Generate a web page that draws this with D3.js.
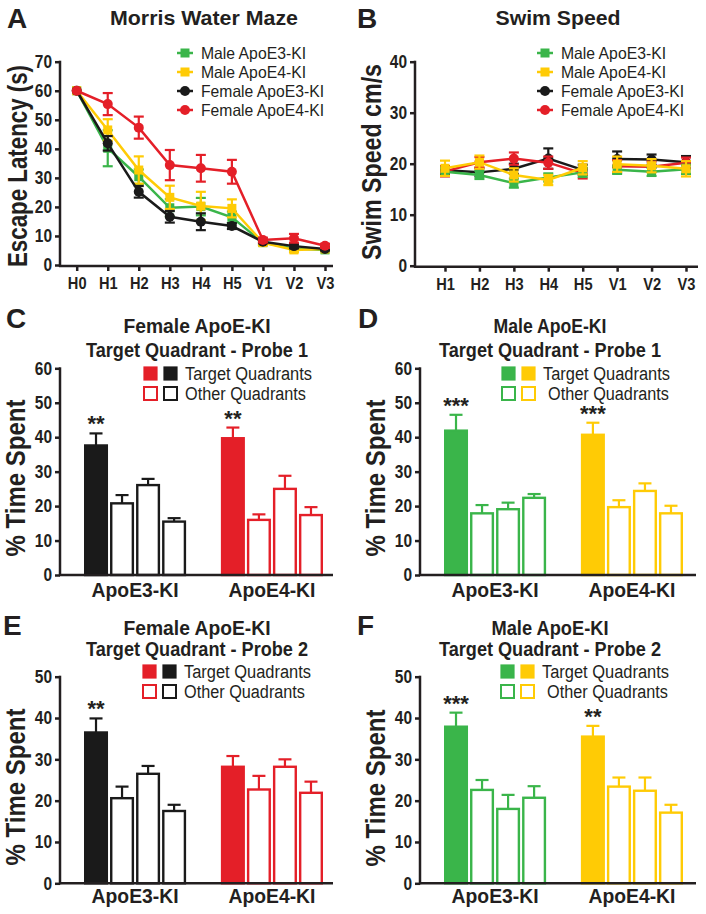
<!DOCTYPE html>
<html>
<head>
<meta charset="utf-8">
<script src="https://cdn.jsdelivr.net/npm/d3@7"></script>
<style>
  body { margin: 0; background: #fff; }
</style>
</head>
<body>
<script>
// ---- data ----
const mazeDays = ["H0", "H1", "H2", "H3", "H4", "H5", "V1", "V2", "V3"];
const mazeMaleE3 = [60, 40.2, 30.4, 19.7, 20.1, 16.4, 7.7, 5.7, 5.2];
const mazeMaleE3Err = [0, 6.2, 2.5, 3, 3, 2, 0.8, 0.5, 0.5];
const mazeMaleE4 = [60, 46.5, 32.7, 23.3, 20.3, 19.5, 7.7, 5.2, 5.5];
const mazeMaleE4Err = [0, 3.7, 4.7, 4, 4.9, 3.1, 0.8, 0.8, 0.5];
const mazeFemaleE3 = [60, 41.9, 25.2, 16.6, 14.9, 13.4, 8.0, 6.5, 5.5];
const mazeFemaleE3Err = [0, 2.5, 2, 2, 2.9, 1, 0.5, 0.8, 0.5];
const mazeFemaleE4 = [60, 55.4, 47.3, 34.4, 33.3, 32.1, 8.6, 9.2, 6.6];
const mazeFemaleE4Err = [0, 3.8, 3.8, 5.2, 4.6, 4.1, 0.8, 1.5, 0.7];

const swimDays = ["H1", "H2", "H3", "H4", "H5", "V1", "V2", "V3"];
const swimMaleE3 = [18.4, 17.8, 16.2, 17.3, 18.3, 18.8, 18.4, 18.9];
const swimMaleE3Err = [0.8, 0.8, 0.9, 0.8, 0.9, 0.8, 0.8, 0.9];
const swimMaleE4 = [19.1, 20.3, 17.8, 16.8, 19.2, 19.9, 19.6, 19.0];
const swimMaleE4Err = [1.5, 1.3, 1.3, 1.0, 1.3, 1.5, 1.3, 1.5];
const swimFemaleE3 = [18.7, 18.3, 19.0, 21.0, 18.8, 20.9, 20.8, 20.3];
const swimFemaleE3Err = [0.8, 0.8, 1.0, 2.0, 1.0, 1.5, 1.0, 1.2];
const swimFemaleE4 = [18.5, 20.3, 21.0, 20.2, 18.1, 19.5, 19.4, 20.2];
const swimFemaleE4Err = [1.0, 1.0, 1.2, 1.2, 1.0, 1.2, 1.0, 1.0];

const seriesNames = ["Male ApoE3-KI", "Male ApoE4-KI", "Female ApoE3-KI", "Female ApoE4-KI"];

const genotypes = ["ApoE3-KI", "ApoE4-KI"];
const quadrantLabels = ["Target Quadrants", "Other Quadrants"];
// [target, other, other, other]
const femaleProbe1E3 = [37.6, 20.8, 26.1, 15.5];
const femaleProbe1E3Err = [3.5, 2.4, 1.8, 1.0];
const femaleProbe1E4 = [39.7, 16.0, 25.0, 17.4];
const femaleProbe1E4Err = [3.1, 1.6, 3.8, 2.3];
const maleProbe1E3 = [41.9, 17.9, 19.1, 22.4];
const maleProbe1E3Err = [4.6, 2.4, 1.9, 1.1];
const maleProbe1E4 = [40.7, 19.7, 24.4, 17.9];
const maleProbe1E4Err = [3.5, 2.0, 2.2, 2.2];
const femaleProbe2E3 = [36.5, 20.6, 26.5, 17.5];
const femaleProbe2E3Err = [3.4, 2.8, 1.9, 1.5];
const femaleProbe2E4 = [28.2, 22.7, 28.2, 21.9];
const femaleProbe2E4Err = [2.6, 3.3, 1.8, 2.7];
const maleProbe2E3 = [37.9, 22.6, 18.0, 20.7];
const maleProbe2E3Err = [3.4, 2.4, 3.4, 2.8];
const maleProbe2E4 = [35.5, 23.4, 22.4, 17.1];
const maleProbe2E4Err = [2.6, 2.2, 3.2, 1.9];
const femaleProbe1Stars = ["**", "**"];
const maleProbe1Stars = ["***", "***"];
const femaleProbe2Stars = ["**", ""];
const maleProbe2Stars = ["***", "**"];

// ---- style ----
const GREEN = "#3ab54a", YELLOW = "#ffcb05", BLACK = "#1a1a1a", RED = "#e41f28";
const SANS = "'Liberation Sans', Arial, Helvetica, sans-serif";
const INK = "#231f20";

const svg = d3.select("body").append("svg")
  .attr("width", 706).attr("height", 914);

// squeeze a text to look like a condensed face
function condense(t, factor) {
  const w = t.node().getComputedTextLength();
  t.attr("textLength", w * factor).attr("lengthAdjust", "spacingAndGlyphs");
}

function text(x, y, str, size, opts) {
  opts = opts || {};
  const t = svg.append("text")
    .attr("x", x).attr("y", y)
    .attr("font-family", SANS)
    .attr("font-size", size)
    .attr("font-weight", opts.weight || "bold")
    .attr("text-anchor", opts.anchor || "start")
    .attr("fill", opts.fill || INK)
    .text(str);
  if (opts.rotate) t.attr("transform", "rotate(-90," + x + "," + y + ")");
  if (opts.len) t.attr("textLength", opts.len).attr("lengthAdjust", "spacingAndGlyphs");
  return t;
}

function styleAxis(a, size) {
  a.select(".domain").remove();
  a.selectAll(".tick line").attr("stroke", INK).attr("stroke-width", 2.5);
  a.selectAll(".tick text")
    .attr("font-family", SANS).attr("font-weight", "bold")
    .attr("font-size", size).attr("fill", INK)
    .each(function () { condense(d3.select(this), 0.86); });
}

function marker(g, shape, cx, cy, color) {
  if (shape === "square") {
    g.append("rect").attr("x", cx - 4.5).attr("y", cy - 4.5)
      .attr("width", 9).attr("height", 9).attr("fill", color);
  } else {
    g.append("circle").attr("cx", cx).attr("cy", cy).attr("r", 5).attr("fill", color);
  }
}

function linePanel(o) {
  const g = svg.append("g");
  const x = d3.scalePoint().domain(o.days).range(o.xRange);
  const y = d3.scaleLinear().domain([0, o.yMax]).range([o.y0, o.yTop]);

  const ya = g.append("g").attr("transform", "translate(" + o.axisX + ",0)")
    .call(d3.axisLeft(y).tickValues(d3.range(0, o.yMax + 1, 10)).tickSize(5).tickPadding(3));
  styleAxis(ya, 18);
  const xa = g.append("g").attr("transform", "translate(0," + (o.y0 + 1) + ")")
    .call(d3.axisBottom(x).tickSize(5).tickPadding(6));
  styleAxis(xa, 17);
  g.append("line").attr("x1", o.axisX).attr("x2", o.axisX)
    .attr("y1", y(o.yMax) - 1).attr("y2", o.y0 + 2)
    .attr("stroke", INK).attr("stroke-width", 2.5);
  g.append("line").attr("x1", o.axisX - 1).attr("x2", o.axisEnd)
    .attr("y1", o.y0 + 1).attr("y2", o.y0 + 1)
    .attr("stroke", INK).attr("stroke-width", 2.5);

  o.order.forEach(function (k) {
    const s = o.series[k];
    const pts = s.values.map(function (v, i) { return { day: o.days[i], v: v, e: s.err[i] }; });
    const segs = o.split ? d3.groups(pts, function (d) { return d.day[0]; }).map(function (d) { return d[1]; }) : [pts];
    const line = d3.line().x(function (d) { return x(d.day); }).y(function (d) { return y(d.v); });
    segs.forEach(function (seg) {
      g.append("path").datum(seg).attr("d", line)
        .attr("fill", "none").attr("stroke", s.color).attr("stroke-width", 2.5);
    });
    pts.forEach(function (d) {
      if (d.e > 0) {
        const cx = x(d.day);
        g.append("line").attr("x1", cx).attr("x2", cx)
          .attr("y1", y(d.v - d.e)).attr("y2", y(d.v + d.e))
          .attr("stroke", s.color).attr("stroke-width", 2.2);
        [d.v - d.e, d.v + d.e].forEach(function (ev) {
          g.append("line").attr("x1", cx - 5).attr("x2", cx + 5)
            .attr("y1", y(ev)).attr("y2", y(ev))
            .attr("stroke", s.color).attr("stroke-width", 2.2);
        });
      }
      marker(g, s.shape, x(d.day), y(d.v), s.color);
    });
  });

  // legend
  o.series.forEach(function (s, i) {
    const ly = o.legendY + i * 19;
    g.append("line").attr("x1", o.legendX - 8).attr("x2", o.legendX + 8)
      .attr("y1", ly).attr("y2", ly).attr("stroke", s.color).attr("stroke-width", 2.5);
    marker(g, s.shape, o.legendX, ly, s.color);
    text(o.legendX + 16, ly + 6, s.name, 16.5, { weight: "normal", len: s.name.length > 13 ? 123 : 105 });
  });
}

function barPanel(o) {
  const g = svg.append("g");
  const y = d3.scaleLinear().domain([0, o.yMax]).range([o.y0, o.yTop]);
  const x0 = d3.scaleBand().domain(genotypes).range([o.axisX + 24, o.axisX + 263]).paddingInner(0.254);
  const x1 = d3.scaleBand().domain(d3.range(4)).range([0, x0.bandwidth()]).paddingInner(0.077);

  const ya = g.append("g").attr("transform", "translate(" + o.axisX + ",0)")
    .call(d3.axisLeft(y).tickValues(d3.range(0, o.yMax + 1, 10)).tickSize(5).tickPadding(3));
  styleAxis(ya, 18);

  o.groups.forEach(function (grp, gi) {
    const gx = x0(genotypes[gi]);
    grp.values.forEach(function (v, i) {
      const bx = gx + x1(i);
      const bw = x1.bandwidth();
      const cx = bx + bw / 2;
      const top = y(v + grp.err[i]);
      g.append("line").attr("x1", cx).attr("x2", cx).attr("y1", y(v)).attr("y2", top)
        .attr("stroke", grp.color).attr("stroke-width", 2.2);
      g.append("line").attr("x1", cx - 6.5).attr("x2", cx + 6.5).attr("y1", top).attr("y2", top)
        .attr("stroke", grp.color).attr("stroke-width", 2.2);
      g.append("rect").attr("x", bx + 1.2).attr("y", y(v))
        .attr("width", bw - 2.4).attr("height", o.y0 - y(v))
        .attr("fill", i === 0 ? grp.color : "#fff")
        .attr("stroke", grp.color).attr("stroke-width", 2.4);
      if (i === 0 && grp.stars) {
        text(cx, top - 2, grp.stars, 22, { anchor: "middle" });
      }
    });
    text(gx + x0.bandwidth() / 2, o.labelY, genotypes[gi], 21, { anchor: "middle", len: 87 });
  });

  g.append("line").attr("x1", o.axisX).attr("x2", o.axisX)
    .attr("y1", y(o.yMax) - 1).attr("y2", o.y0 + 1)
    .attr("stroke", INK).attr("stroke-width", 2.5);
  g.append("line").attr("x1", o.axisX - 1).attr("x2", o.axisEnd)
    .attr("y1", o.y0).attr("y2", o.y0)
    .attr("stroke", INK).attr("stroke-width", 2.5);

  // legend
  quadrantLabels.forEach(function (lab, r) {
    const ly = o.legendY + r * 20;
    o.legendOrder.forEach(function (gi, j) {
      const grp = o.groups[gi];
      g.append("rect").attr("x", o.legendX + j * 20 + 1).attr("y", ly - 6.5)
        .attr("width", 13).attr("height", 13)
        .attr("fill", r === 0 ? grp.color : "#fff")
        .attr("stroke", grp.color).attr("stroke-width", r === 0 ? 1.2 : 2);
    });
    text(o.legendX + 42 + (r === 1 ? o.row2Shift : 0), ly + 6.5, lab, 18, { weight: "normal", len: r === 0 ? 127 : 121 });
  });

  text(o.titleX, o.titleY, o.title1, 21, { anchor: "middle", len: o.title1Len });
  text(o.titleX, o.titleY + o.titleGap, o.title2, 21, { anchor: "middle", len: 222 });
  text(o.ylabX, o.ylabY, "% Time Spent", 28, { anchor: "middle", rotate: true, len: 157 });
  text(o.letterX, o.letterY, o.letter, 28);
}

// ---- panel A ----
linePanel({
  days: mazeDays, xRange: [76.7, 325], yMax: 70, y0: 265, yTop: 61.7,
  axisX: 60, axisEnd: 333, split: false, order: [0, 1, 2, 3],
  legendX: 185, legendY: 53,
  series: [
    { name: seriesNames[0], values: mazeMaleE3, err: mazeMaleE3Err, color: GREEN, shape: "square" },
    { name: seriesNames[1], values: mazeMaleE4, err: mazeMaleE4Err, color: YELLOW, shape: "square" },
    { name: seriesNames[2], values: mazeFemaleE3, err: mazeFemaleE3Err, color: BLACK, shape: "circle" },
    { name: seriesNames[3], values: mazeFemaleE4, err: mazeFemaleE4Err, color: RED, shape: "circle" }
  ]
});
text(204, 25, "Morris Water Maze", 21, { anchor: "middle", len: 188 });
text(27, 166, "Escape Latency (s)", 28, { anchor: "middle", rotate: true, len: 202 });
text(7, 28, "A", 28);

// ---- panel B ----
linePanel({
  days: swimDays, xRange: [445, 686], yMax: 40, y0: 265.7, yTop: 61.7,
  axisX: 415, axisEnd: 698, split: true, order: [2, 3, 0, 1],
  legendX: 545, legendY: 53,
  series: [
    { name: seriesNames[0], values: swimMaleE3, err: swimMaleE3Err, color: GREEN, shape: "square" },
    { name: seriesNames[1], values: swimMaleE4, err: swimMaleE4Err, color: YELLOW, shape: "square" },
    { name: seriesNames[2], values: swimFemaleE3, err: swimFemaleE3Err, color: BLACK, shape: "circle" },
    { name: seriesNames[3], values: swimFemaleE4, err: swimFemaleE4Err, color: RED, shape: "circle" }
  ]
});
text(558, 25, "Swim Speed", 21, { anchor: "middle", len: 125 });
text(381, 162, "Swim Speed cm/s", 28, { anchor: "middle", rotate: true, len: 196 });
text(357, 28, "B", 28);

// ---- panels C-F ----
barPanel({
  letter: "C", letterX: 6, letterY: 328,
  title1: "Female ApoE-KI", title1Len: 147, title2: "Target Quadrant - Probe 1",
  titleX: 197, titleY: 333, titleGap: 24,
  axisX: 60, axisEnd: 333, y0: 575, yTop: 368.3, yMax: 60, labelY: 597,
  legendX: 143, legendY: 373.5, legendOrder: [1, 0], row2Shift: 0, ylabX: 25, ylabY: 478,
  groups: [
    { values: femaleProbe1E3, err: femaleProbe1E3Err, color: BLACK, stars: femaleProbe1Stars[0] },
    { values: femaleProbe1E4, err: femaleProbe1E4Err, color: RED, stars: femaleProbe1Stars[1] }
  ]
});
barPanel({
  letter: "D", letterX: 358, letterY: 328,
  title1: "Male ApoE-KI", title1Len: 113, title2: "Target Quadrant - Probe 1",
  titleX: 550, titleY: 333, titleGap: 24,
  axisX: 420, axisEnd: 696, y0: 575, yTop: 368.3, yMax: 60, labelY: 597,
  legendX: 501, legendY: 373.5, legendOrder: [0, 1], row2Shift: 5, ylabX: 385, ylabY: 478,
  groups: [
    { values: maleProbe1E3, err: maleProbe1E3Err, color: GREEN, stars: maleProbe1Stars[0] },
    { values: maleProbe1E4, err: maleProbe1E4Err, color: YELLOW, stars: maleProbe1Stars[1] }
  ]
});
barPanel({
  letter: "E", letterX: 3, letterY: 635,
  title1: "Female ApoE-KI", title1Len: 147, title2: "Target Quadrant - Probe 2",
  titleX: 197, titleY: 635, titleGap: 21,
  axisX: 60, axisEnd: 333, y0: 883.3, yTop: 676.7, yMax: 50, labelY: 903,
  legendX: 142, legendY: 671.5, legendOrder: [1, 0], row2Shift: 0, ylabX: 25, ylabY: 787,
  groups: [
    { values: femaleProbe2E3, err: femaleProbe2E3Err, color: BLACK, stars: femaleProbe2Stars[0] },
    { values: femaleProbe2E4, err: femaleProbe2E4Err, color: RED, stars: femaleProbe2Stars[1] }
  ]
});
barPanel({
  letter: "F", letterX: 357, letterY: 635,
  title1: "Male ApoE-KI", title1Len: 117, title2: "Target Quadrant - Probe 2",
  titleX: 550, titleY: 635, titleGap: 21,
  axisX: 420, axisEnd: 696, y0: 883.3, yTop: 676.7, yMax: 50, labelY: 903,
  legendX: 500, legendY: 671.5, legendOrder: [0, 1], row2Shift: 5, ylabX: 385, ylabY: 788,
  groups: [
    { values: maleProbe2E3, err: maleProbe2E3Err, color: GREEN, stars: maleProbe2Stars[0] },
    { values: maleProbe2E4, err: maleProbe2E4Err, color: YELLOW, stars: maleProbe2Stars[1] }
  ]
});
</script>
</body>
</html>
